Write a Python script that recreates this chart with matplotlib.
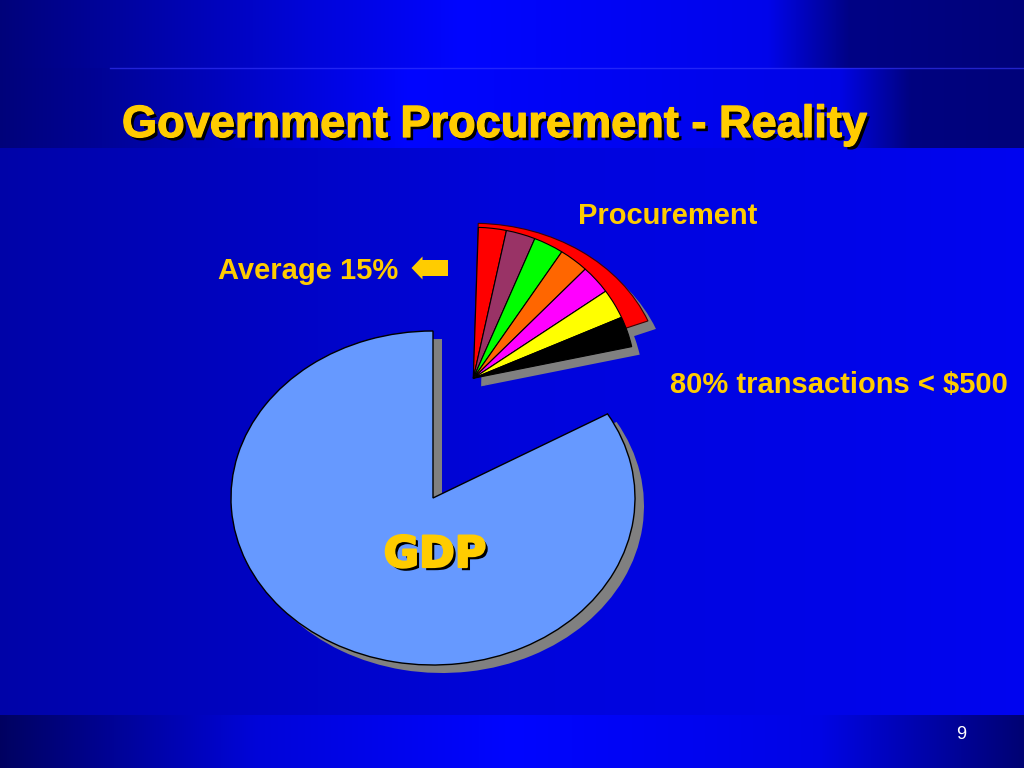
"""
Slide chart: Government Procurement - Reality.
GDP pie with the procurement wedge pulled out and split into a fan.
"""

import numpy as np
import matplotlib
matplotlib.use("Agg")
import matplotlib.pyplot as plt
from matplotlib import font_manager, patheffects
from matplotlib.patches import FancyArrow


# -----------------------------------------------------------------------------
# DATA
# -----------------------------------------------------------------------------
pie_labels = ["GDP", "Procurement"]
pie_shares = [83.4, 16.6]                 # percent of the whole pie
pie_colors = ["#6699FF", "none"]

# pulled-out fan: seven slices, percent of a full turn
fan_shares = [2.78, 2.92, 3.00, 2.94, 3.08, 3.17, 3.25]
fan_colors = ["#FF0000", "#993366", "#00FF00", "#FF6600",
              "#FF00FF", "#FFFF00", "#000000"]
fan_start = 88.2

# red backing sector behind the fan, percent of a full turn
fan_back_share = 18.55
fan_back_start = 88.5

title = "Government Procurement - Reality"
label_procurement = "Procurement"
label_average = "Average 15%"
label_small = "80% transactions < $500"
page_number = "9"

YELLOW = "#FFCC00"
SHADOW = "#808080"

W, H = 1024, 768


# -----------------------------------------------------------------------------
# HELPERS
# -----------------------------------------------------------------------------
def gradient_row(stops):
    xs = np.linspace(0, 1, W)
    return np.interp(xs, [s[0] for s in stops], [s[1] for s in stops])


def make_background():
    img = np.zeros((H, W, 3))
    bands = [
        (0, 68, [(0, 0.48), (0.3, 0.85), (0.45, 1.0), (0.75, 0.92),
                 (0.83, 0.52), (1, 0.48)]),
        (68, 148, [(0, 0.48), (0.11, 0.6), (0.4, 1.0), (0.82, 0.9),
                   (0.89, 0.5), (1, 0.48)]),
        (148, 715, [(0, 0.66), (0.5, 0.86), (1, 0.94)]),
        (715, H, [(0, 0.38), (0.25, 0.85), (0.5, 1.0), (0.8, 0.9),
                  (1, 0.45)]),
    ]
    for y0, y1, stops in bands:
        img[y0:y1, :, 2] = gradient_row(stops)[None, :]
    img[:, :, 1] = img[:, :, 2] * 0.02
    return img


def ellipse_axes(fig, cx, cy, rx, ry, lim=1.3):
    """Axes in which the unit circle shows as an ellipse (rx, ry px)."""
    w, h = 2 * lim * rx, 2 * lim * ry
    ax = fig.add_axes([(cx - w / 2) / W, (H - cy - h / 2) / H, w / W, h / H])
    ax.set_axis_off()
    ax.patch.set_alpha(0)
    return ax


def finish(ax, lim=1.3):
    ax.set_aspect("auto")
    ax.set_xlim(-lim, lim)
    ax.set_ylim(-lim, lim)


def font_or(name, fallback):
    names = {f.name for f in font_manager.fontManager.ttflist}
    return name if name in names else fallback


# -----------------------------------------------------------------------------
# FIGURE
# -----------------------------------------------------------------------------
fig = plt.figure(figsize=(W / 100, H / 100), dpi=100)

ax_bg = fig.add_axes([0, 0, 1, 1])
ax_bg.imshow(make_background(), extent=(0, W, H, 0), aspect="auto",
             interpolation="bilinear")
ax_bg.axhline(68, xmin=110 / W, color="#3a3aff", lw=1, alpha=0.6)
ax_bg.set_xlim(0, W)
ax_bg.set_ylim(H, 0)
ax_bg.set_axis_off()

# main GDP pie with shadow
main_rx, main_ry = 202, 167
ax_main = ellipse_axes(fig, 433, 498, main_rx, main_ry)
sh, _ = ax_main.pie(pie_shares, colors=[SHADOW, SHADOW], startangle=90,
                    center=(9 / main_rx, -8 / main_ry),
                    wedgeprops=dict(linewidth=0))
sh[1].set_visible(False)
wedges, _ = ax_main.pie(pie_shares, colors=pie_colors, startangle=90,
                        wedgeprops=dict(edgecolor="black", linewidth=1))
wedges[1].set_visible(False)
finish(ax_main)

# pulled-out procurement fan
apex = (473.3, 378.3)
back_rx, back_ry = 188, 155
fan_rx, fan_ry = 162, 151

ax_back_sh = ellipse_axes(fig, *apex, back_rx, back_ry)
ax_fan_sh = ellipse_axes(fig, *apex, fan_rx, fan_ry)
ax_back = ellipse_axes(fig, *apex, back_rx, back_ry)
ax_fan = ellipse_axes(fig, *apex, fan_rx, fan_ry)

ax_back_sh.pie([fan_back_share / 100], colors=[SHADOW], normalize=False,
               startangle=fan_back_start, counterclock=False,
               center=(8 / back_rx, -8 / back_ry), wedgeprops=dict(linewidth=0))
ax_fan_sh.pie(np.array(fan_shares) / 100, colors=[SHADOW] * len(fan_shares),
              normalize=False, startangle=fan_start, counterclock=False,
              center=(8 / fan_rx, -8 / fan_ry), wedgeprops=dict(linewidth=0))
ax_back.pie([fan_back_share / 100], colors=["#FF0000"], normalize=False,
            startangle=fan_back_start, counterclock=False,
            wedgeprops=dict(edgecolor="#400000", linewidth=0.8))
ax_fan.pie(np.array(fan_shares) / 100, colors=fan_colors, normalize=False,
           startangle=fan_start, counterclock=False,
           wedgeprops=dict(edgecolor="black", linewidth=0.8))
for ax in (ax_back_sh, ax_fan_sh, ax_back, ax_fan):
    finish(ax)

# text layer
ax_txt = fig.add_axes([0, 0, 1, 1])
ax_txt.set_xlim(0, W)
ax_txt.set_ylim(H, 0)
ax_txt.set_axis_off()
ax_txt.patch.set_alpha(0)

# narrow bold face if present, otherwise a smaller regular-width bold
narrow = font_or("Liberation Sans Narrow", None)
label_font = narrow or "Liberation Sans"
label_size = 24 if narrow else 21


def shadow_fx(stroke):
    return [patheffects.withSimplePatchShadow(offset=(2.3, -2.3),
                                              shadow_rgbFace="black",
                                              alpha=1.0),
            patheffects.Stroke(linewidth=stroke, foreground=YELLOW),
            patheffects.Normal()]


ax_txt.text(122, 137, title, fontsize=32.5, fontweight="bold",
            family="Liberation Sans", color=YELLOW, ha="left",
            va="baseline", path_effects=shadow_fx(0.9))
ax_txt.text(435, 567, pie_labels[0], fontsize=31, fontweight="bold",
            family="DejaVu Sans", color=YELLOW, ha="center",
            va="baseline", path_effects=shadow_fx(1.6))

ax_txt.text(578, 224, label_procurement, fontsize=label_size,
            fontweight="bold", family=label_font, color=YELLOW,
            ha="left", va="baseline")
ax_txt.text(398, 279, label_average, fontsize=label_size, fontweight="bold",
            family=label_font, color=YELLOW, ha="right", va="baseline")
ax_txt.text(1008, 393, label_small, fontsize=label_size, fontweight="bold",
            family=label_font, color=YELLOW, ha="right", va="baseline")
ax_txt.text(961, 739, page_number, fontsize=13, family="Liberation Sans",
            color="white", ha="center", va="baseline")

ax_txt.add_patch(FancyArrow(448, 268, -36.5, 0, width=16, head_width=23,
                            head_length=11, length_includes_head=True,
                            color=YELLOW, linewidth=0))

fig.savefig("out.png", dpi=100)
